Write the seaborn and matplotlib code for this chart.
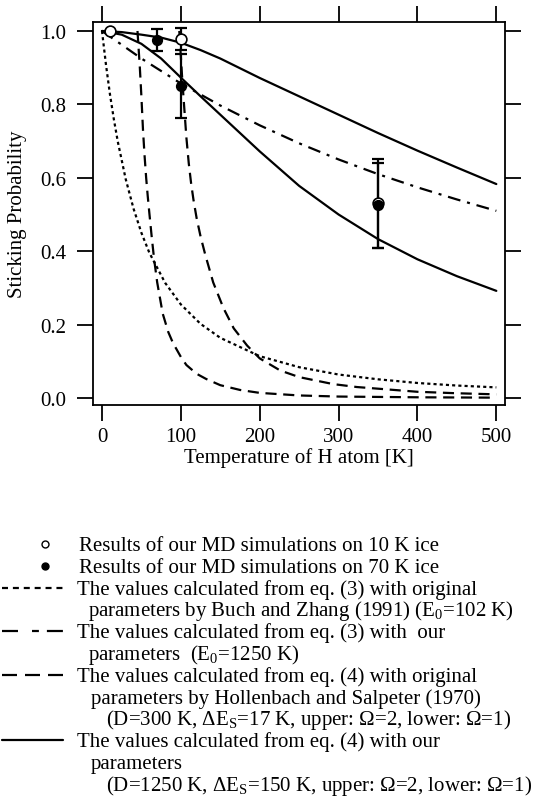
import numpy as np
import pandas as pd
import matplotlib
matplotlib.use("Agg")
import matplotlib.pyplot as plt
import seaborn as sns
from matplotlib.lines import Line2D
from matplotlib.ticker import FormatStrFormatter

# ---------------- data ----------------
# eq. (3), Buch & Zhang original parameters (E0=102 K)
T_bz = [0, 5, 10, 15, 20, 30, 40, 50, 60, 80, 100, 125, 150, 200, 250, 300, 350, 400, 450, 500]
S_bz = [1.0, 0.909, 0.829, 0.760, 0.699, 0.597, 0.516, 0.450, 0.396, 0.314, 0.255, 0.202,
        0.164, 0.114, 0.084, 0.064, 0.051, 0.041, 0.034, 0.029]

# eq. (3), our parameters (E0=1250 K)
T_e3 = [0, 50, 100, 150, 200, 250, 300, 350, 400, 450, 500]
S_e3 = [1.0, 0.925, 0.857, 0.797, 0.743, 0.694, 0.650, 0.610, 0.574, 0.541, 0.510]

# eq. (4), Hollenbach & Salpeter original parameters, lower (Omega=1)
T_hs_lo = [45, 48, 50, 52, 54, 56, 58, 60, 63, 66, 70, 77, 84, 90, 100, 107, 120, 132, 150,
           175, 200, 250, 300, 400, 500]
S_hs_lo = [1.0, 0.90, 0.82, 0.73, 0.66, 0.60, 0.55, 0.505, 0.44, 0.38, 0.315, 0.23, 0.18, 0.15,
           0.112, 0.09, 0.066, 0.052, 0.035, 0.022, 0.014, 0.007, 0.004, 0.002, 0.001]
# upper (Omega=2)
T_hs_up = [98, 100, 102, 104, 107, 110, 113, 116, 120, 125, 131, 141, 154, 167, 184, 200, 226,
           250, 293, 323, 400, 450, 500]
S_hs_up = [1.0, 0.93, 0.86, 0.80, 0.71, 0.64, 0.585, 0.54, 0.49, 0.44, 0.39, 0.315, 0.245, 0.19,
           0.143, 0.108, 0.075, 0.057, 0.038, 0.030, 0.017, 0.013, 0.010]

# eq. (4), our parameters (D=1250 K, dEs=150 K)
T_e4 = [0, 25, 50, 75, 100, 125, 150, 200, 250, 300, 350, 400, 450, 500]
S_e4_up = [1.0, 0.997, 0.99, 0.982, 0.968, 0.948, 0.925, 0.872, 0.822, 0.772, 0.722, 0.674, 0.628, 0.583]
S_e4_lo = [1.0, 0.99, 0.965, 0.925, 0.873, 0.822, 0.772, 0.672, 0.578, 0.50, 0.433, 0.378, 0.332, 0.292]

# MD simulation results
T_10K = [10, 100, 350]
S_10K = [1.0, 0.978, 0.53]
E_10K = [0.0, 0.03, 0.12]
T_70K = [70, 100, 350]
S_70K = [0.975, 0.85, 0.525]
E_70K = [0.03, 0.088, 0.115]

x_ticks = [0, 100, 200, 300, 400, 500]
y_ticks = [0.0, 0.2, 0.4, 0.6, 0.8, 1.0]

# ---------------- style ----------------
sns.set_style("ticks")
SERIF = ["Liberation Serif", "DejaVu Serif"]
plt.rcParams.update({
    "font.family": "serif",
    "font.serif": SERIF,
    "mathtext.fontset": "custom",
    "mathtext.rm": "Liberation Serif",
    "mathtext.it": "Liberation Serif:italic",
    "mathtext.default": "regular",
    "text.color": "black",
    "axes.labelcolor": "black",
    "xtick.color": "black",
    "ytick.color": "black",
    "axes.edgecolor": "black",
})

W, H = 538, 804
fig = plt.figure(figsize=(W / 100, H / 100), dpi=100)
ax = fig.add_axes([93 / W, 1 - 406 / H, 412 / W, 383 / H])

LW = 1.6
DOT = (0, (1.4, 1.4))
DASHDOT = (0, (5.8, 3.1, 1.35, 3.1))
DASH = (0, (5.0, 3.0))

def curve(T, S, ls):
    df = pd.DataFrame({"T": T, "S": S})
    sns.lineplot(data=df, x="T", y="S", ax=ax, color="black", lw=LW, linestyle=ls,
                 estimator=None, sort=False)

curve(T_bz, S_bz, DOT)
curve(T_e3, S_e3, DASHDOT)
curve(T_hs_lo, S_hs_lo, DASH)
curve(T_hs_up, S_hs_up, DASH)
curve(T_e4, S_e4_up, "-")
curve(T_e4, S_e4_lo, "-")

ax.errorbar(T_10K, S_10K, yerr=E_10K, fmt="none", ecolor="black", elinewidth=1.6,
            capsize=4, capthick=1.6, zorder=4)
ax.errorbar(T_70K, S_70K, yerr=E_70K, fmt="none", ecolor="black", elinewidth=1.6,
            capsize=4, capthick=1.6, zorder=4)
sns.scatterplot(x=T_10K, y=S_10K, ax=ax, marker="o", s=60, color="white",
                edgecolor="black", linewidth=1.2, zorder=6)
sns.scatterplot(x=T_70K, y=S_70K, ax=ax, marker="o", s=50, color="black",
                edgecolor="black", linewidth=1.0, zorder=7)

ax.set_xlim(-11.4, 511)
ax.set_ylim(-0.019, 1.0245)
ax.set_xticks(x_ticks)
ax.set_yticks(y_ticks)
ax.yaxis.set_major_formatter(FormatStrFormatter("%.1f"))
ax.tick_params(direction="out", length=11.5, width=1.3, top=True, right=True,
               labeltop=False, labelright=False, labelsize=15)
ax.tick_params(axis="y", pad=7.5)
ax.tick_params(axis="x", pad=4)
for lbl in ax.get_xticklabels() + ax.get_yticklabels():
    lbl.set_fontfamily(SERIF)
for sp in ax.spines.values():
    sp.set_linewidth(1.3)
ax.set_xlabel("Temperature of H atom [K]", fontsize=15, labelpad=1, fontfamily=SERIF)
ax.set_ylabel("Sticking Probability", fontsize=15, labelpad=10, fontfamily=SERIF)

# ---------------- legend (below plot) ----------------
FS = 15
y0, dy = 545, 21.8
rows = [
    (79, "Results of our MD simulations on 10 K ice"),
    (79, "Results of our MD simulations on 70 K ice"),
    (77, "The values calculated from eq. (3) with original"),
    (88, "parameters by Buch and Zhang (1991) (E$_0$=102 K)"),
    (77, "The values calculated from eq. (3) with  our"),
    (88, "parameters  (E$_0$=1250 K)"),
    (77, "The values calculated from eq. (4) with original"),
    (91, "parameters by Hollenbach and Salpeter (1970)"),
    (106, "(D=300 K, ΔE$_\\mathrm{S}$=17 K, upper: Ω=2, lower: Ω=1)"),
    (77, "The values calculated from eq. (4) with our"),
    (91, "parameters"),
    (106, "(D=1250 K, ΔE$_\\mathrm{S}$=150 K, upper: Ω=2, lower: Ω=1)"),
]
for i, (x, s) in enumerate(rows):
    y = y0 + i * dy
    fig.text(x / W, 1 - (y + 6) / H, s, fontsize=FS, ha="left", va="baseline",
             fontfamily=SERIF)

def ly(i):
    return 1 - (y0 + i * dy) / H

fig.add_artist(Line2D([45 / W], [ly(0)], marker="o", ms=5, mfc="white", mec="black",
                      mew=1.0, ls="none", transform=fig.transFigure))
fig.add_artist(Line2D([45 / W], [ly(1)], marker="o", ms=5, mfc="black", mec="black",
                      mew=1.0, ls="none", transform=fig.transFigure))
leg_styles = [(2, (0, (2.7, 2.2))), (4, (0, (7.2, 6.3, 3.1, 3.6))), (6, (0, (6.75, 3.6))), (9, "-")]
for i, ls in leg_styles:
    fig.add_artist(Line2D([2 / W, 63 / W], [ly(i), ly(i)], color="black", lw=LW,
                          linestyle=ls, transform=fig.transFigure))

fig.savefig("out.png", dpi=100)
